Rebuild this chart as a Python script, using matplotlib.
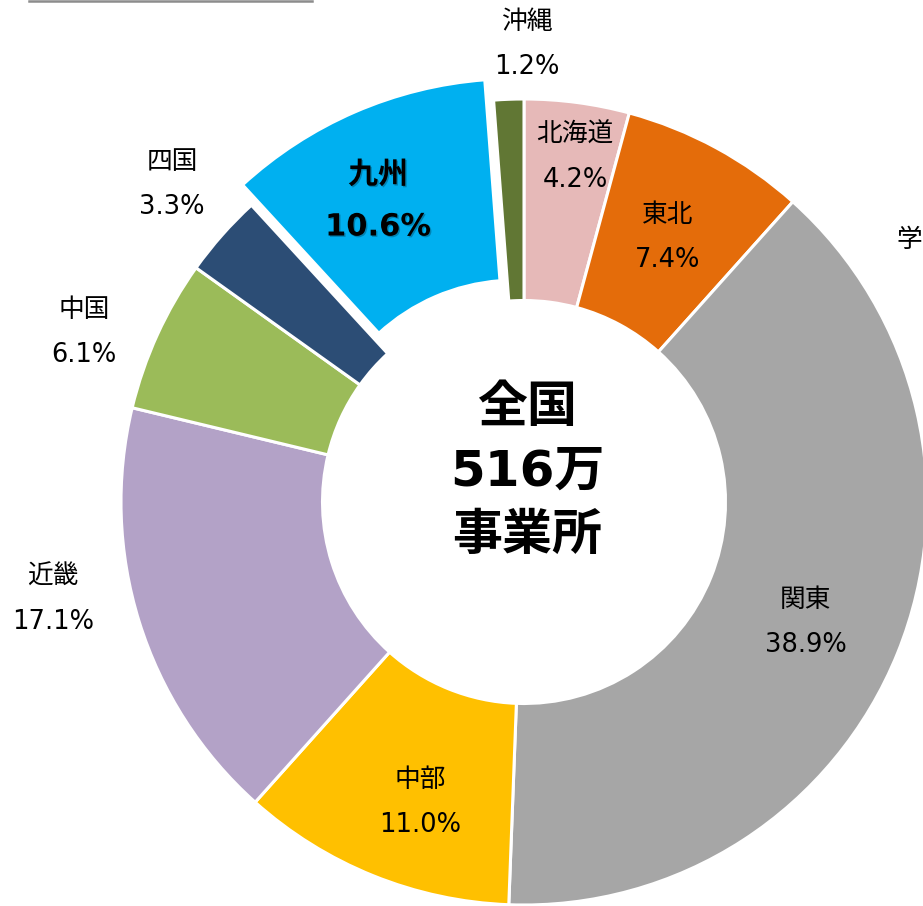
import matplotlib.pyplot as plt
import matplotlib.patheffects as pe
from matplotlib.lines import Line2D

# 数字は幅の広い DejaVu、漢字は Noto CJK
plt.rcParams['font.family'] = ['DejaVu Sans', 'Noto Sans CJK JP']

# 地域別 事業所数の割合 (%)
regions = ['北海道', '東北', '関東', '中部', '近畿', '中国', '四国', '九州', '沖縄']
shares = [4.2, 7.4, 38.9, 11.0, 17.1, 6.1, 3.3, 10.6, 1.2]
colors = ['#E6B9B8', '#E46C0A', '#A6A6A6', '#FFC000', '#B3A2C7',
          '#9BBB59', '#2C4D75', '#00B0F0', '#617734']
center_lines = ['全国', '516万', '事業所']

# ラベル位置 (ピクセル) : 名前の中心
label_px = [(575, 135), (668, 215), (806, 600), (420, 780), (53, 577),
            (84, 310), (172, 162), (378, 175), (527, 22)]

W, H, DPI = 923, 906, 100
CX, CY, R = 524, 502, 403


def px(x, y):
    return (x - CX) / R, (CY - y) / R


fig = plt.figure(figsize=(W / DPI, H / DPI), dpi=DPI)
ax = fig.add_axes([0, 0, 1, 1])

explode = [0.055 if r == '九州' else 0 for r in regions]
ax.pie(shares, colors=colors, startangle=90, counterclock=False,
       explode=explode, radius=1,
       wedgeprops=dict(width=0.5, edgecolor='white', linewidth=2.2))

ax.set_xlim(px(0, 0)[0], px(W, 0)[0])
ax.set_ylim(px(0, H)[1], px(0, 0)[1])
ax.set_aspect('auto')
ax.axis('off')

for name, val, (lx, ly) in zip(regions, shares, label_px):
    x, y = px(lx, ly)
    if name == '九州':
        eff = [pe.withSimplePatchShadow(offset=(1, -1), alpha=0.25)]
        ax.text(x, y, name, ha='center', va='center', fontsize=21.5,
                fontweight='bold', path_effects=eff)
        ax.text(x, px(lx, ly + 52)[1], f'{val:.1f}%', ha='center', va='center',
                fontsize=22, fontweight='bold', path_effects=eff)
    else:
        ax.text(x, y, name, ha='center', va='center', fontsize=18.5)
        ax.text(x, px(lx, ly + 45)[1], f'{val:.1f}%', ha='center',
                va='center', fontsize=18.5)

for i, line in enumerate(center_lines):
    x, y = px(527, 408 + 64 * i)
    ax.text(x, y, line, ha='center', va='center', fontsize=36,
            fontweight='bold')

# 右端の文字
x, y = px(896, 240)
ax.text(x, y, '学', ha='left', va='center', fontsize=18.5)

# 上部の区切り線
fig.add_artist(Line2D([29 / W, 312 / W], [1 - 1 / H, 1 - 1 / H],
                      color='#8C8C8C', linewidth=1.8))

fig.savefig('out.png', dpi=DPI)
